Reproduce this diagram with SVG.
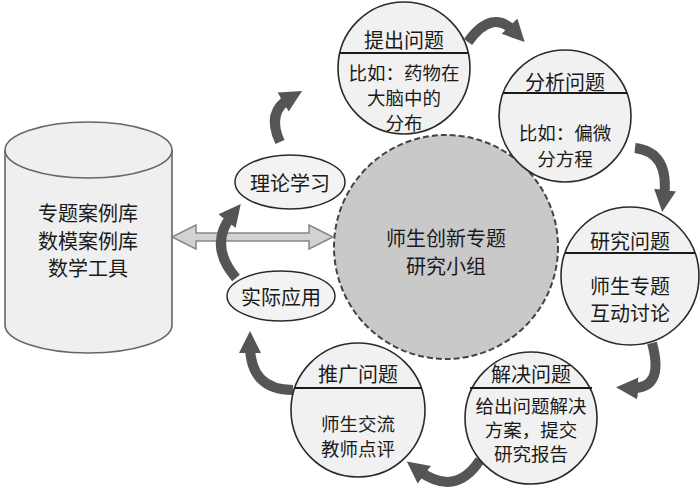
<svg xmlns="http://www.w3.org/2000/svg" width="700" height="488" viewBox="0 0 700 488">
<defs>
<style>
text{font-family:"Noto Sans CJK SC","Noto Sans CJK JP",sans-serif;font-size:20px;fill:#1a1a1a;text-anchor:middle;dominant-baseline:central}
.sm{font-size:18.5px}
.node{fill:#f1f1f1;stroke:#2a2a2a;stroke-width:1.6}
.div{stroke:#1a1a1a;stroke-width:1.8}
.ell{fill:#f3f3f3;stroke:#2a2a2a;stroke-width:1.5}
.flow{fill:none;stroke:#555;stroke-width:10;stroke-linecap:butt}
</style>
<marker id="ah" markerUnits="userSpaceOnUse" markerWidth="24" markerHeight="24" refX="8" refY="11" orient="auto">
<path d="M0,0 L22,11 L0,22 z" fill="#555"/>
</marker>
</defs>
<rect width="700" height="488" fill="#fff"/>

<g id="database">
<path d="M5,150 L5,325 A83.5,28 0 0 0 172,325 L172,150" fill="#efefef" stroke="#666" stroke-width="1.6"/>
<ellipse cx="88.5" cy="150" rx="83.5" ry="28" fill="#efefef" stroke="#666" stroke-width="1.6"/>
<text x="88" y="212" font-size="21">专题案例库</text>
<text x="88" y="240" font-size="21">数模案例库</text>
<text x="88" y="267" font-size="21">数学工具</text>
</g>

<g id="center">
<circle cx="446" cy="247" r="112" fill="#c9c9c9" stroke="#444" stroke-width="2" stroke-dasharray="6,3"/>
<text x="446" y="237">师生创新专题</text>
<text x="446" y="265">研究小组</text>
</g>

<g id="connectors">
<path d="M172,237 L196,225 L196,233 L309,233 L309,225 L333,237 L309,249 L309,241 L196,241 L196,249 Z" fill="#d2d2d2" stroke="#888" stroke-width="1.5"/>
<path class="flow" d="M280,142 Q266,112 290,98" marker-end="url(#ah)"/>
<path class="flow" d="M468,42 Q492,8 515,32" marker-end="url(#ah)"/>
<path class="flow" d="M635,148 Q670,152 664,198" marker-end="url(#ah)"/>
<path class="flow" d="M652,343 Q665,390 630,388" marker-end="url(#ah)"/>
<path class="flow" d="M480,460 Q455,498 418,470" marker-end="url(#ah)"/>
<path class="flow" d="M293,390 Q250,390 250,345" marker-end="url(#ah)"/>
<path class="flow" d="M236,278 Q208,245 232,215" marker-end="url(#ah)"/>
</g>

<g id="theory">
<ellipse class="ell" cx="290" cy="182" rx="55" ry="27"/>
<text x="290" y="182">理论学习</text>
</g>
<g id="practice">
<ellipse class="ell" cx="281" cy="296" rx="54" ry="25"/>
<text x="281" y="296">实际应用</text>
</g>

<g id="raise">
<circle class="node" cx="404" cy="68" r="66"/>
<line class="div" x1="340" y1="53" x2="468" y2="53"/>
<text x="404" y="39">提出问题</text>
<text class="sm" x="404" y="72">比如：药物在</text>
<text class="sm" x="404" y="97">大脑中的</text>
<text class="sm" x="404" y="122">分布</text>
</g>

<g id="analyze">
<circle class="node" cx="565" cy="116" r="66"/>
<line class="div" x1="503" y1="93" x2="627" y2="93"/>
<text x="565" y="81">分析问题</text>
<text class="sm" x="565" y="132">比如：偏微</text>
<text class="sm" x="565" y="158">分方程</text>
</g>

<g id="research">
<circle class="node" cx="630" cy="276" r="69"/>
<line class="div" x1="565" y1="253" x2="695" y2="253"/>
<text x="630" y="240">研究问题</text>
<text x="630" y="285">师生专题</text>
<text x="630" y="312">互动讨论</text>
</g>

<g id="solve">
<circle class="node" cx="531" cy="418" r="66"/>
<line class="div" x1="470" y1="388" x2="592" y2="388"/>
<text x="531" y="373">解决问题</text>
<text class="sm" x="531" y="405">给出问题解决</text>
<text class="sm" x="531" y="429">方案，提交</text>
<text class="sm" x="531" y="453">研究报告</text>
</g>

<g id="promote">
<circle class="node" cx="358" cy="410" r="67"/>
<line class="div" x1="294" y1="388" x2="422" y2="388"/>
<text x="358" y="373">推广问题</text>
<text class="sm" x="358" y="423">师生交流</text>
<text class="sm" x="358" y="448">教师点评</text>
</g>
</svg>
